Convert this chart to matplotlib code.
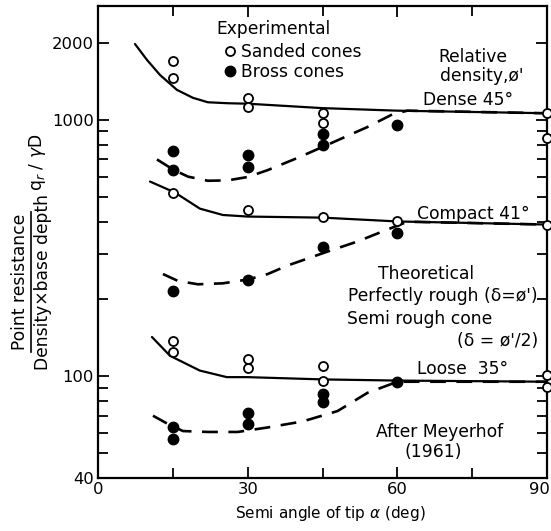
import matplotlib
matplotlib.use("Agg")
import matplotlib.pyplot as plt
import matplotlib.transforms as mtransforms
from matplotlib.lines import Line2D

# ---------------- data ----------------
x_dense_sanded = [15, 15, 30, 30, 45, 45, 90, 90]
y_dense_sanded = [1700, 1450, 1220, 1120, 1065, 975, 1065, 850]
x_dense_bross = [15, 15, 30, 30, 45, 45, 60]
y_dense_bross = [755, 635, 730, 655, 880, 800, 955]

x_compact_sanded = [15, 30, 45, 60, 90]
y_compact_sanded = [520, 443, 417, 401, 390]
x_compact_bross = [15, 30, 45, 60]
y_compact_bross = [214, 238, 320, 363]

x_loose_sanded = [15, 15, 30, 30, 45, 45, 90, 90]
y_loose_sanded = [137, 124, 117, 107, 109, 96, 101, 91]
x_loose_bross = [15, 15, 30, 30, 45, 45, 60]
y_loose_bross = [63, 57, 72, 65, 85, 79, 95]

dense_rough_x = [7.4, 9.8, 12.4, 15.8, 19, 22, 26, 30, 45, 60, 90]
dense_rough_y = [1975, 1712, 1496, 1308, 1218, 1170, 1160, 1155, 1110, 1085, 1060]
dense_semi_x = [11.8, 15, 18, 22, 26, 30, 34, 40, 46, 54, 59, 62, 90]
dense_semi_y = [700, 640, 600, 578, 580, 598, 636, 710, 799, 937, 1050, 1085, 1060]

compact_rough_x = [10.4, 15.4, 20.4, 25, 30, 45, 60, 90]
compact_rough_y = [574, 520, 450, 425, 419, 415, 401, 390]
compact_semi_x = [13, 16, 20, 25, 30, 34, 38, 46, 52, 58, 62, 90]
compact_semi_y = [250, 235, 228, 230, 238, 250, 270, 306, 335, 373, 400, 390]

loose_rough_x = [10.8, 14.4, 20.4, 25.8, 30, 45, 60, 90]
loose_rough_y = [142, 120, 105, 99, 99, 97, 96, 95]
loose_semi_x = [11, 14, 17, 22, 28, 34, 41, 48, 54, 60, 90]
loose_semi_y = [70, 65, 61, 60.5, 60.5, 63, 66.5, 73, 86, 95, 95]

x_major_ticks = [0, 30, 60, 90]
x_minor_ticks = [15, 45, 75]
y_major_ticks = [40, 100, 1000, 2000]
y_minor_ticks = [50, 60, 70, 80, 90, 200, 300, 400, 500, 600, 700, 800, 900]

# ---------------- figure ----------------
plt.rcParams['font.family'] = ['DejaVu Sans']
FS = 12.3      # annotation text
TFS = 11.8     # tick labels
fig = plt.figure(figsize=(5.51, 5.31), dpi=100)
ax = fig.add_axes([0.178, 0.0998, 0.815, 0.889])
ax.set_yscale('log')
ax.set_xlim(0, 90)
ax.set_ylim(40, 2780)

lw = 1.6
dash = (0, (6, 4))
for xs, ys in [(dense_rough_x, dense_rough_y), (compact_rough_x, compact_rough_y),
               (loose_rough_x, loose_rough_y)]:
    ax.plot(xs, ys, color='black', lw=lw, solid_capstyle='round', clip_on=False)
for xs, ys in [(dense_semi_x, dense_semi_y), (compact_semi_x, compact_semi_y),
               (loose_semi_x, loose_semi_y)]:
    ax.plot(xs, ys, color='black', lw=lw + 0.3, linestyle=dash, clip_on=False)

open_kw = dict(linestyle='none', marker='o', markersize=6.5, markerfacecolor='white',
               markeredgecolor='black', markeredgewidth=1.3, clip_on=False, zorder=5)
solid_kw = dict(linestyle='none', marker='o', markersize=7.5, markerfacecolor='black',
                markeredgecolor='black', clip_on=False, zorder=5)

h_open, = ax.plot(x_dense_sanded, y_dense_sanded, **open_kw)
ax.plot(x_compact_sanded, y_compact_sanded, **open_kw)
ax.plot(x_loose_sanded, y_loose_sanded, **open_kw)
h_solid, = ax.plot(x_dense_bross, y_dense_bross, **solid_kw)
ax.plot(x_compact_bross, y_compact_bross, **solid_kw)
ax.plot(x_loose_bross, y_loose_bross, **solid_kw)

# ticks
ax.set_xticks(x_major_ticks)
ax.set_xticklabels([str(v) for v in x_major_ticks])
ax.set_xticks(x_minor_ticks, minor=True)
ax.set_yticks(y_major_ticks)
ax.set_yticklabels([str(v) for v in y_major_ticks])
ax.set_yticks(y_minor_ticks, minor=True)
ax.yaxis.set_minor_formatter(matplotlib.ticker.NullFormatter())
ax.tick_params(which='both', direction='in', top=True, right=True, width=1.3,
               labelsize=TFS, pad=3)
ax.tick_params(which='major', length=8)
ax.tick_params(which='minor', length=7)
for s in ax.spines.values():
    s.set_linewidth(1.6)
# keep the last x tick label inside the figure
last = ax.get_xticklabels()[-1]
last.set_transform(last.get_transform() +
                   mtransforms.ScaledTranslation(-8 / 100, 0, fig.dpi_scale_trans))

# legend
leg = ax.legend([h_open, h_solid], ['Sanded cones', 'Bross cones'],
                loc='upper left', bbox_to_anchor=(0.283, 0.921), frameon=False,
                fontsize=FS, handlelength=0.6, handletextpad=0.35,
                labelspacing=0.12, borderpad=0, borderaxespad=0)
ax.text(35.1, 2260, 'Experimental', fontsize=FS, ha='center', va='center')

# annotations
ax.text(75.2, 1758, 'Relative', fontsize=FS, ha='center', va='center')
ax.text(76.8, 1484, "density,ø'", fontsize=FS, ha='center', va='center')
ax.text(65.1, 1196, 'Dense 45°', fontsize=FS, ha='left', va='center')
ax.text(63.9, 427, 'Compact 41°', fontsize=FS, ha='left', va='center')
ax.text(65.7, 249, 'Theoretical', fontsize=FS, ha='center', va='center')
ax.text(69.1, 205, "Perfectly rough (δ=ø')", fontsize=FS, ha='center', va='center')
ax.text(49.9, 167, 'Semi rough cone', fontsize=FS, ha='left', va='center')
ax.text(88.2, 137, "(δ = ø'/2)", fontsize=FS, ha='right', va='center')
ax.text(63.9, 106.5, 'Loose  35°', fontsize=FS, ha='left', va='center')
ax.text(68.5, 60.5, 'After Meyerhof', fontsize=FS, ha='center', va='center')
ax.text(67.1, 50.6, '(1961)', fontsize=FS, ha='center', va='center')

# axis labels
ax.set_xlabel('Semi angle of tip $\\alpha$ (deg)', fontsize=11, labelpad=2)
ax.xaxis.set_label_coords(0.517, -0.055)
fig.text(0.037, 0.469, 'Point resistance', rotation=90, fontsize=FS,
         ha='center', va='center')
fig.text(0.078, 0.469, 'Density×base depth', rotation=90, fontsize=FS,
         ha='center', va='center')
fig.add_artist(Line2D([0.057, 0.057], [0.337, 0.601], color='black', lw=1.2,
                      transform=fig.transFigure))
fig.text(0.068, 0.695, 'q$_r$ / $\\gamma$D', rotation=90, fontsize=FS,
         ha='center', va='center')

fig.savefig('out.png', dpi=100)
